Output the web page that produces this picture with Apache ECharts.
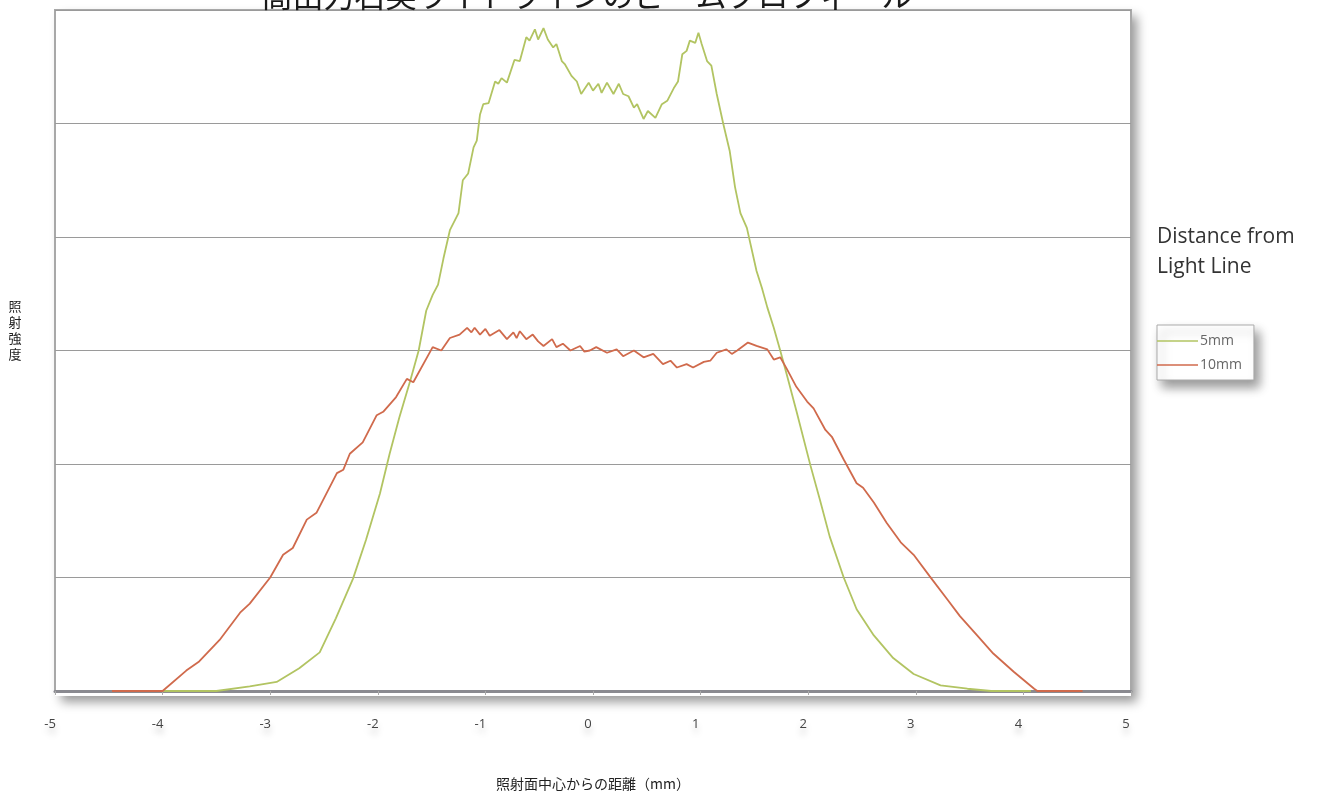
<!DOCTYPE html>
<html><head><meta charset="utf-8">
<script src="https://cdn.jsdelivr.net/npm/echarts@6/dist/echarts.min.js"></script>
<style>html,body{margin:0;padding:0;background:#fff}#c{width:1324px;height:796px}</style>
</head><body><div id="c"></div>
<script>
var titleText = '高出力石英ライトラインのビームプロフィール';
var xAxisName = '照射面中心からの距離（mm）';
var yAxisName = '照射強度';
var legendTitle = 'Distance from\nLight Line';
var seriesNames = ['5mm', '10mm'];

var green_x = [-4.00,-3.50,-3.19,-2.94,-2.73,-2.54,-2.39,-2.23,-2.11,-1.98,-1.89,-1.80,-1.70,-1.62,-1.55,-1.49,-1.44,-1.39,-1.33,-1.25,-1.21,-1.16,-1.11,-1.08,-1.05,-1.02,-0.97,-0.91,-0.88,-0.85,-0.80,-0.73,-0.68,-0.62,-0.59,-0.54,-0.51,-0.46,-0.42,-0.37,-0.34,-0.29,-0.26,-0.20,-0.15,-0.11,-0.04,0.00,0.05,0.08,0.13,0.19,0.24,0.28,0.33,0.38,0.41,0.47,0.51,0.58,0.64,0.69,0.75,0.79,0.83,0.87,0.90,0.95,0.98,1.01,1.06,1.10,1.15,1.21,1.27,1.32,1.37,1.43,1.52,1.57,1.62,1.68,1.74,1.80,1.89,2.02,2.11,2.20,2.33,2.45,2.61,2.79,2.98,3.23,3.48,3.70,4.07];
var green_y = [0,0,0.04,0.08,0.20,0.34,0.64,0.99,1.33,1.74,2.09,2.41,2.73,3.00,3.35,3.49,3.58,3.81,4.06,4.21,4.50,4.56,4.79,4.85,5.08,5.17,5.18,5.37,5.35,5.40,5.36,5.56,5.55,5.76,5.73,5.83,5.74,5.84,5.74,5.67,5.70,5.55,5.52,5.42,5.37,5.26,5.36,5.29,5.35,5.27,5.36,5.26,5.35,5.26,5.24,5.14,5.17,5.04,5.11,5.05,5.17,5.20,5.31,5.37,5.61,5.64,5.73,5.71,5.80,5.70,5.55,5.51,5.26,5.00,4.76,4.44,4.21,4.08,3.70,3.55,3.38,3.20,3.00,2.79,2.47,1.99,1.68,1.36,1.00,0.72,0.49,0.29,0.15,0.05,0.02,0,0];

var red_x = [-4.47,-4.00,-3.78,-3.66,-3.47,-3.28,-3.19,-3.00,-2.88,-2.79,-2.66,-2.57,-2.38,-2.32,-2.26,-2.14,-2.01,-1.95,-1.83,-1.73,-1.67,-1.49,-1.41,-1.33,-1.24,-1.17,-1.13,-1.10,-1.05,-1.00,-0.96,-0.87,-0.80,-0.74,-0.71,-0.68,-0.62,-0.56,-0.51,-0.46,-0.38,-0.34,-0.28,-0.21,-0.12,-0.08,-0.03,0.03,0.13,0.22,0.28,0.38,0.47,0.56,0.65,0.72,0.78,0.87,0.93,1.03,1.09,1.15,1.24,1.29,1.34,1.44,1.52,1.62,1.68,1.74,1.80,1.89,1.99,2.05,2.16,2.22,2.33,2.45,2.51,2.61,2.73,2.86,2.98,3.13,3.29,3.41,3.57,3.72,3.91,4.10,4.13,4.55];
var red_y = [0,0,0.18,0.26,0.45,0.69,0.77,1.00,1.20,1.26,1.51,1.57,1.92,1.95,2.09,2.19,2.43,2.46,2.59,2.75,2.72,3.03,3.00,3.11,3.14,3.20,3.16,3.20,3.14,3.19,3.13,3.18,3.10,3.16,3.11,3.17,3.10,3.14,3.08,3.04,3.10,3.03,3.06,3.00,3.04,2.99,3.00,3.03,2.98,3.01,2.95,3.00,2.94,2.97,2.88,2.91,2.85,2.88,2.85,2.90,2.91,2.98,3.01,2.97,3.00,3.07,3.04,3.01,2.92,2.94,2.84,2.68,2.55,2.49,2.30,2.24,2.04,1.83,1.79,1.66,1.48,1.31,1.20,1.01,0.81,0.66,0.49,0.33,0.17,0.02,0,0];

function zip(a, b) { return a.map(function (v, i) { return [v, b[i]]; }); }

var chart = echarts.init(document.getElementById('c'));
chart.setOption({
  backgroundColor: '#fff',
  animation: false,
  grid: {
    left: 55, right: 193, top: 10, bottom: 100,
    show: true, backgroundColor: 'transparent', borderColor: '#a8a8a8', borderWidth: 2
  },
  graphic: [
    { type: 'rect', z: -10, silent: true, shape: { x: 55, y: 10, width: 1076, height: 686 },
      style: { fill: '#fff', shadowColor: 'rgba(0,0,0,0.4)', shadowBlur: 10, shadowOffsetX: 6, shadowOffsetY: 6 } },
    { type: 'text', z: 100, position: [587, -5], style: { text: titleText, fill: '#1a1a1a', font: '31px "Noto Sans CJK JP", sans-serif', textAlign: 'center', textVerticalAlign: 'middle' } },
    { type: 'text', position: [15, 330], style: { text: '照\n射\n強\n度', fill: '#222', font: '13px "Noto Sans CJK JP", sans-serif', textAlign: 'center', textVerticalAlign: 'middle', lineHeight: 16 } },
    { type: 'text', position: [1157, 252], style: { text: legendTitle, fill: '#333', font: '21px "Open Sans", sans-serif', textAlign: 'left', textVerticalAlign: 'middle', lineHeight: 30 } }
  ],
  legend: {
    left: 1157, top: 325, orient: 'vertical',
    data: seriesNames,
    icon: 'rect', itemWidth: 41, itemHeight: 1.5, itemGap: 10,
    backgroundColor: '#fff', borderColor: '#aaa', borderWidth: 1,
    padding: [9, 12, 8, 0],
    shadowColor: 'rgba(0,0,0,0.4)', shadowBlur: 10, shadowOffsetX: 5, shadowOffsetY: 7,
    textStyle: { color: '#666', fontSize: 14, fontFamily: '"Open Sans", sans-serif', padding: [0, 0, 0, -3] }
  },
  xAxis: {
    type: 'value', min: -5, max: 5, interval: 1,
    name: xAxisName, nameLocation: 'middle', nameGap: 86,
    nameTextStyle: { color: '#222', fontSize: 14, fontFamily: '"Noto Sans CJK JP", sans-serif' },
    axisLine: { show: true, onZero: false, lineStyle: { color: '#8a8a90', width: 3 } },
    axisTick: { show: true, length: 4, lineStyle: { color: '#aaa' } },
    axisLabel: { color: '#444', fontSize: 13, margin: 27, padding: [0, 10, 0, 0], fontFamily: '"Open Sans", sans-serif',
      textShadowColor: 'rgba(0,0,0,0.25)', textShadowBlur: 6, textShadowOffsetY: 6 },
    splitLine: { show: false }
  },
  yAxis: {
    type: 'value', min: 0, max: 6, interval: 1,
    axisLine: { show: false }, axisTick: { show: false }, axisLabel: { show: false },
    splitLine: { show: true, lineStyle: { color: '#9a9a9a', width: 1 } }
  },
  series: [
    { name: seriesNames[0], type: 'line', data: zip(green_x, green_y), showSymbol: false, smooth: false,
      lineStyle: { color: '#b2c462', width: 1.8 }, itemStyle: { color: '#b2c462' }, z: 3 },
    { name: seriesNames[1], type: 'line', data: zip(red_x, red_y), showSymbol: false, smooth: false,
      lineStyle: { color: '#d06a4c', width: 1.8 }, itemStyle: { color: '#d06a4c' }, z: 4 }
  ]
});
</script></body></html>
